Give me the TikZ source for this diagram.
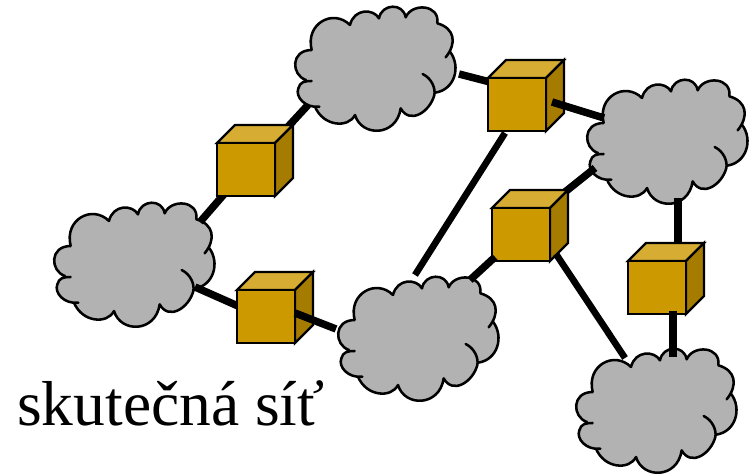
\documentclass[tikz,border=0pt]{standalone}
\usepackage{fontspec}
\setmainfont{Liberation Serif}
\tikzset{
  x=0.75pt,y=-0.75pt,
  cloudline/.style={line width=1.9pt,line cap=round,line join=round,draw=black},
  link/.style={line width=5.6pt,draw=black},
  thinlink/.style={line width=5pt,draw=black},
  face/.style={draw=black,line width=1.8pt,line join=miter},
  cloud/.pic={
    \begin{scope}[x=0.25pt,y=-0.25pt]
    \fill[cloudfill] (95,150) .. controls (75,70) and (160,25) .. (210,75)
      .. controls (222,25) and (280,25) .. (297,55)
      .. controls (305,10) and (370,8) .. (377,52)
      .. controls (395,8) and (480,12) .. (472,70)
      .. controls (525,85) and (531,130) .. (497,172) -- (510,155)
      .. controls (544,200) and (524,270) .. (465,278) -- (463,285)
      .. controls (450,335) and (390,375) .. (362,325)
      .. controls (350,410) and (245,412) .. (225,345)
      .. controls (205,385) and (130,380) .. (105,320) -- (118,320)
      .. controls (75,325) and (45,290) .. (55,265)
      .. controls (60,245) and (75,243) .. (95,243) -- (78,240)
      .. controls (33,225) and (31,150) .. (95,150) -- cycle;
    \draw[cloudline] (95,150) .. controls (75,70) and (160,25) .. (210,75)
      (210,75) .. controls (222,25) and (280,25) .. (297,55)
      (297,55) .. controls (305,10) and (370,8) .. (377,52)
      (377,52) .. controls (395,8) and (480,12) .. (472,70)
      (472,70) .. controls (525,85) and (531,130) .. (497,172)
      (510,155) .. controls (544,200) and (524,270) .. (465,278)
      (428,222) .. controls (455,235) and (467,265) .. (463,285)
      .. controls (450,335) and (390,375) .. (362,325)
      (362,325) .. controls (350,410) and (245,412) .. (225,345)
      (225,345) .. controls (205,385) and (130,380) .. (105,320)
      (118,320) .. controls (75,325) and (45,290) .. (55,265)
      .. controls (60,245) and (75,243) .. (95,243)
      (78,240) .. controls (33,225) and (31,150) .. (95,150);
    \end{scope}
  },
  cube/.pic={
    \fill[cubetop,face] (0,0) -- (18,-18) -- (76,-18) -- (58,0) -- cycle;
    \fill[cubeside,face] (58,0) -- (76,-18) -- (76,35) -- (58,53) -- cycle;
    \fill[cubefront,face] (0,0) rectangle (58,53);
  }
}
\definecolor{cloudfill}{HTML}{B2B2B2}
\definecolor{cubefront}{HTML}{CC9900}
\definecolor{cubetop}{HTML}{D6AC33}
\definecolor{cubeside}{HTML}{A67C00}
\begin{document}
\begin{tikzpicture}
\useasboundingbox (0,0) rectangle (752,475);
% connector ends
\coordinate (e1) at (308,105); \coordinate (e2) at (284,131);
\coordinate (e3) at (200,222); \coordinate (e4) at (226,192);
\coordinate (e5) at (195,287); \coordinate (e6) at (238,306);
\coordinate (e7) at (295,313); \coordinate (e8) at (336,329);
\coordinate (e9) at (459,74); \coordinate (e10) at (490,82);
\coordinate (e11) at (552,102); \coordinate (e12) at (604,118);
\coordinate (e13) at (505,133); \coordinate (e14) at (415,275);
\coordinate (e15) at (565,192); \coordinate (e16) at (595,168);
\coordinate (e17) at (495,257); \coordinate (e18) at (470,280);
\coordinate (e19) at (556,254); \coordinate (e20) at (625,358);
\coordinate (e21) at (678,198); \coordinate (e22) at (678,243);
\coordinate (e23) at (673,311); \coordinate (e24) at (673,357);
% clouds
\pic (cloudTop) at (280,0) {cloud};
\pic (cloudLeft) at (39,196) {cloud};
\pic (cloudRight) at (572,73) {cloud};
\pic (cloudMid) at (323,270) {cloud};
\pic (cloudBR) at (561,342) {cloud};
% connectors behind the cubes
\draw[link] (e1) -- (e2);
\draw[link] (e3) -- (e4);
\draw[link] (e5) -- (e6);
\draw[link] (e9) -- (e10);
\draw[link] (e15) -- (e16);
% cubes
\pic (cubeA) at (488,78) {cube};
\pic (cubeB) at (217,143) {cube};
\pic (cubeC) at (237,290) {cube};
\pic (cubeD) at (492,208) {cube};
\pic (cubeE) at (628,261) {cube};
% connectors over the cubes
\draw[link] (e7) -- (e8);
\draw[link] (e11) -- (e12);
\draw[thinlink] (e13) -- (e14);
\draw[link] (e17) -- (e18);
\draw[thinlink] (e19) -- (e20);
\draw[link] (e21) -- (e22);
\draw[link] (e23) -- (e24);
\node[anchor=base west,inner sep=0pt] (caption) at (17,425) {\fontsize{47.6}{50}\selectfont skutečná síť};
\end{tikzpicture}
\end{document}
